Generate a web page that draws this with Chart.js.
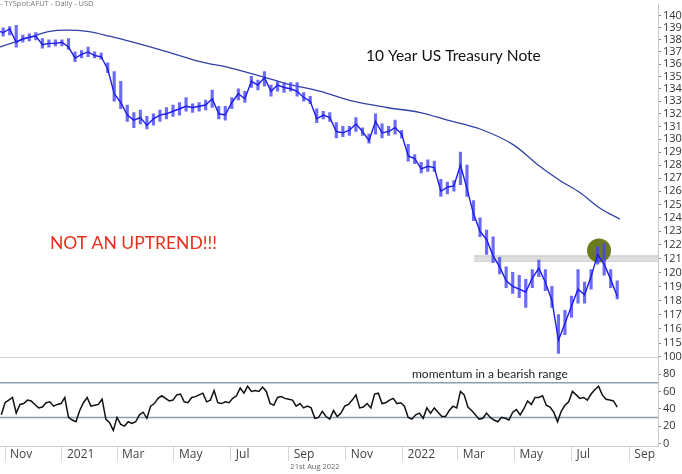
<!DOCTYPE html>
<html lang="en">
<head>
    <meta charset="UTF-8">
    <title>10 Year US Treasury Note</title>
    <style>
        body {
            margin: 0;
            padding: 0;
            background-color: #fff;
        }
        #wrap {
            position: relative;
            width: 682px;
            height: 474px;
        }
    </style>
    <script src="https://cdn.jsdelivr.net/npm/chart.js"></script>
</head>
<body>

<div id="wrap">
    <canvas id="tyChart" width="682" height="474"></canvas>
</div>

<script>
    // x values are calendar days counted from 1 Nov 2020
    const firstWeekDay = -9;   // weekly samples, 7 days apart
    const weekStep = 7;

    const priceHigh = [
        139.2, 139.0, 139.1, 139.2, 138.4, 138.5, 138.6, 138.1, 138.0, 138.0,
        138.0, 138.1, 137.0, 137.1, 137.4, 137.0, 136.9, 136.1, 135.4, 134.6,
        132.7, 132.1, 132.3, 131.8, 132.0, 132.3, 132.5, 132.7, 132.9, 133.3,
        132.8, 132.9, 133.1, 133.9, 132.6, 132.6, 133.3, 134.0, 133.8, 135.0,
        134.7, 135.4, 134.3, 134.6, 134.5, 134.5, 134.5, 133.7, 133.4, 132.4,
        132.2, 132.1, 131.3, 131.0, 131.0, 131.7, 130.9, 130.4, 132.0, 131.2,
        131.0, 131.5, 130.7, 129.6, 128.8, 128.2, 128.4, 128.3, 126.9, 126.7,
        126.8, 129.0, 128.0, 125.3, 124.0, 123.1, 122.6, 121.1, 120.4, 120.0,
        119.8, 119.5, 120.2, 120.9, 120.2, 119.0, 117.0, 117.3, 118.3, 120.2,
        119.3, 120.2, 121.9, 122.1, 120.2, 119.4
    ];
    const priceLow = [
        138.3, 138.3, 138.4, 137.4, 137.8, 137.9, 138.0, 137.3, 137.4, 137.5,
        137.5, 137.2, 136.2, 136.5, 136.6, 136.5, 136.4, 135.3, 133.0, 132.4,
        131.4, 130.9, 131.2, 130.8, 131.1, 131.4, 131.6, 131.8, 131.9, 132.2,
        132.1, 132.2, 132.3, 132.5, 131.6, 131.5, 132.4, 133.1, 132.9, 134.1,
        133.9, 134.2, 133.4, 133.8, 133.7, 133.8, 133.4, 133.0, 132.8, 131.3,
        131.6, 131.4, 130.1, 130.2, 130.3, 130.6, 130.3, 129.7, 130.4, 130.1,
        130.3, 130.4, 130.1, 128.3, 128.1, 127.4, 127.5, 127.5, 125.6, 125.8,
        126.0, 126.5, 125.6, 123.8, 122.6, 121.3, 120.7, 119.9, 118.9, 118.5,
        118.2, 117.5, 118.9, 119.7, 118.7, 117.5, 114.3, 115.6, 116.8, 117.8,
        117.8, 118.8, 120.6, 119.8, 118.9, 118.1
    ];
    const priceClose = [
        138.8, 138.6, 138.9, 137.8, 138.1, 138.2, 138.3, 137.6, 137.7, 137.7,
        137.8, 137.4, 136.5, 136.8, 137.0, 136.7, 136.6, 135.6, 133.6, 132.9,
        131.9, 131.5, 131.7, 131.1, 131.6, 131.9, 132.0, 132.2, 132.4, 132.6,
        132.5, 132.6, 132.7, 133.2, 132.0, 131.9, 132.9, 133.6, 133.2, 134.6,
        134.3, 134.9, 133.8, 134.3, 134.1, 134.0, 133.8, 133.3, 133.0, 131.6,
        131.9, 131.7, 130.6, 130.5, 130.7, 131.2, 130.6, 129.9, 131.4, 130.5,
        130.6, 130.9, 130.4, 128.7, 128.5, 127.7, 127.9, 127.8, 126.0, 126.3,
        126.4, 128.0, 126.2, 124.3, 123.0, 122.4, 121.2, 120.4, 119.4, 119.0,
        118.8, 118.6, 119.6, 120.3, 119.3, 118.0, 115.2, 116.4, 117.6, 118.8,
        118.4, 119.7, 121.3, 120.6, 119.5, 118.3
    ];

    // 200 day moving average
    const maDays = [-6, 30, 48, 66, 88, 112, 137, 174, 209, 241, 270, 302, 337, 373, 409, 445, 474, 509, 544, 573, 595, 616, 638, 659];
    const maValues = [137.4, 138.3, 138.7, 138.8, 138.7, 138.3, 137.8, 137.0, 136.2, 135.7, 135.1, 134.4, 133.8, 133.0, 132.5, 132.1, 131.5, 130.8, 129.6, 127.9, 126.8, 125.9, 124.7, 123.9];

    // RSI, every 4 days
    const firstRsiDay = -4;
    const rsiStep = 4;
    const rsiValues = [
        33, 47, 50, 53, 35, 45, 46, 50, 49, 45,
        41, 42, 47, 48, 43, 45, 46, 53, 30, 27,
        25, 38, 47, 53, 43, 44, 45, 51, 28, 24,
        15, 30, 22, 20, 25, 23, 25, 33, 36, 29,
        43, 46, 52, 55, 52, 49, 50, 56, 57, 48,
        47, 53, 54, 56, 58, 48, 50, 61, 47, 46,
        48, 47, 52, 55, 64, 58, 66, 60, 61, 60,
        65, 60, 46, 44, 53, 54, 52, 51, 50, 43,
        46, 41, 43, 41, 29, 30, 37, 31, 28, 38,
        31, 35, 43, 45, 50, 56, 41, 42, 46, 41,
        57, 58, 46, 47, 50, 52, 46, 47, 43, 30,
        28, 33, 35, 29, 41, 35, 41, 36, 31, 31,
        38, 43, 41, 60, 56, 42, 38, 33, 28, 29,
        35, 30, 27, 25, 30, 29, 27, 36, 39, 33,
        40, 49, 45, 53, 53, 55, 44, 42, 36, 25,
        37, 44, 48, 60, 56, 52, 53, 50, 57, 62,
        66, 56, 51, 50, 49, 42
    ];
    const rsiBands = [70, 30];

    // resistance band and highlighted top
    const bandDays = [502.6, 700];
    const bandLow = 120.8;
    const bandHigh = 121.2;
    const highlightDay = 636.5;
    const highlightPrice = 121.6;

    // x axis
    const monthDays = [0, 61, 120, 181, 242, 304, 365, 426, 485, 546, 607, 669];
    const monthLabels = ['Nov', '2021', 'Mar', 'May', 'Jul', 'Sep', 'Nov', '2022', 'Mar', 'May', 'Jul', 'Sep'];
    const priceTicks = [115, 116, 117, 118, 119, 120, 121, 122, 123, 124, 125, 126, 127, 128, 129, 130, 131, 132, 133, 134, 135, 136, 137, 138, 139, 140];
    const rsiTicks = [0, 20, 40, 60, 80, 100];

    const weekDay = i => firstWeekDay + i * weekStep;
    const rangeData = priceHigh.map((h, i) => ({ x: weekDay(i), y: [priceLow[i], h] }));
    const closeData = priceClose.map((c, i) => ({ x: weekDay(i), y: c }));
    const maData = maValues.map((v, i) => ({ x: maDays[i], y: v }));
    const rsiData = rsiValues.map((v, i) => ({ x: firstRsiDay + i * rsiStep, y: v }));
    const xMin = -5.4, xMax = 699.7;

    const tickFont = { family: 'Open Sans', size: 11 };

    // no extra room for edge labels, the panes fill the canvas
    function noPadding(s) {
        s.paddingLeft = 0;
        s.paddingRight = 0;
        s.paddingTop = 0;
        s.paddingBottom = 0;
    }

    const overlay = {
        id: 'overlay',
        beforeDatasetsDraw(chart) {
            const ctx = chart.ctx;
            const area = chart.chartArea;
            const y = Math.round(chart.scales.y.bottom) + 0.5;
            ctx.save();
            ctx.strokeStyle = '#d0d0d0';
            ctx.lineWidth = 1;
            ctx.beginPath();
            ctx.moveTo(area.left, y);
            ctx.lineTo(area.right, y);
            ctx.stroke();
            ctx.restore();
        },
        afterDraw(chart) {
            const ctx = chart.ctx;
            ctx.save();
            ctx.textBaseline = 'middle';

            ctx.fillStyle = '#777';
            ctx.font = '7.5px "Open Sans"';
            ctx.textAlign = 'left';
            ctx.fillText('- TYSpot:AFUT - Daily - USD', 0, 4);

            ctx.fillStyle = '#111';
            ctx.font = '15.5px Lato';
            ctx.fillText('10 Year US Treasury Note', 366, 56);

            ctx.fillStyle = '#e3301c';
            ctx.font = '17.5px Lato';
            ctx.fillText('NOT AN UPTREND!!!', 50, 243);

            ctx.fillStyle = '#222';
            ctx.font = '12px Lato';
            ctx.fillText('momentum in a bearish range', 412, 374);

            ctx.fillStyle = '#666';
            ctx.font = '7.5px "Open Sans"';
            ctx.textAlign = 'center';
            ctx.fillText('21st Aug 2022', 315, 467);
            ctx.restore();
        }
    };

    const ctx = document.getElementById('tyChart').getContext('2d');
    const tyChart = new Chart(ctx, {
        data: {
            datasets: [
                {
                    type: 'line', label: 'Close', data: closeData, yAxisID: 'y',
                    borderColor: '#1c1ced', borderWidth: 1.4, pointRadius: 0, tension: 0, order: 0
                },
                {
                    type: 'bar', label: 'Range', data: rangeData, yAxisID: 'y',
                    backgroundColor: 'rgba(70, 70, 245, 0.8)', barThickness: 2.5, order: 1
                },
                {
                    type: 'line', label: '200 MA', data: maData, yAxisID: 'y',
                    borderColor: '#3142a6', borderWidth: 1.3, pointRadius: 0, tension: 0.35, order: 2
                },
                {
                    type: 'line', label: 'Top', data: [{ x: highlightDay, y: highlightPrice }], yAxisID: 'y',
                    showLine: false, pointRadius: 12, pointBackgroundColor: '#6b7b1e', pointBorderWidth: 0, order: 3
                },
                {
                    type: 'line', label: 'Band high', data: bandDays.map(d => ({ x: d, y: bandHigh })), yAxisID: 'y',
                    borderColor: '#c2c2c2', borderWidth: 1, pointRadius: 0, fill: '+1', backgroundColor: '#dedede', order: 4
                },
                {
                    type: 'line', label: 'Band low', data: bandDays.map(d => ({ x: d, y: bandLow })), yAxisID: 'y',
                    borderColor: '#c2c2c2', borderWidth: 1, pointRadius: 0, order: 4
                },
                {
                    type: 'line', label: 'RSI', data: rsiData, yAxisID: 'y2',
                    borderColor: '#111', borderWidth: 1.5, pointRadius: 0, tension: 0, order: 0
                },
                ...rsiBands.map(b => ({
                    type: 'line', label: 'RSI ' + b, data: [{ x: xMin, y: b }, { x: xMax, y: b }], yAxisID: 'y2',
                    borderColor: '#8d9db2', borderWidth: 1.5, pointRadius: 0, order: 5
                }))
            ]
        },
        options: {
            responsive: false,
            animation: false,
            layout: { autoPadding: false, padding: { top: 4, left: 0, right: 0, bottom: 0 } },
            plugins: { legend: { display: false }, tooltip: { enabled: false } },
            scales: {
                y: {
                    type: 'logarithmic', position: 'right', stack: 'panes', stackWeight: 352,
                    min: 114.07, max: 141.0,
                    afterBuildTicks: s => { s.ticks = priceTicks.map(v => ({ value: v })); },
                    afterFit: s => { s.width = 24; noPadding(s); },
                    ticks: { autoSkip: false, font: tickFont, color: '#333', padding: 2, callback: v => String(v) },
                    grid: { drawOnChartArea: false, tickLength: 3, color: '#888' },
                    border: { color: '#c8c8c8' }
                },
                y2: {
                    type: 'linear', position: 'right', stack: 'panes', stackWeight: 89,
                    min: -3, max: 100,
                    afterBuildTicks: s => { s.ticks = rsiTicks.map(v => ({ value: v })); },
                    afterFit: s => { s.width = 24; noPadding(s); },
                    ticks: { autoSkip: false, font: tickFont, color: '#333', padding: 2 },
                    grid: { drawOnChartArea: false, tickLength: 3, color: '#888' },
                    border: { color: '#c8c8c8' }
                },
                x: {
                    type: 'linear', position: 'bottom', min: xMin, max: xMax, offset: false,
                    afterBuildTicks: s => { s.ticks = monthDays.map(v => ({ value: v })); },
                    afterFit: s => { s.height = 28; noPadding(s); },
                    ticks: {
                        autoSkip: false, maxRotation: 0, align: 'start', labelOffset: 5, padding: -14,
                        font: { family: 'Open Sans', size: 12 }, color: '#444',
                        callback: v => monthLabels[monthDays.indexOf(v)]
                    },
                    grid: { offset: false, drawOnChartArea: false, tickLength: 15, color: '#d6d6d6' },
                    border: { color: '#cfcfcf' }
                }
            }
        },
        plugins: [overlay]
    });
</script>

</body>
</html>
